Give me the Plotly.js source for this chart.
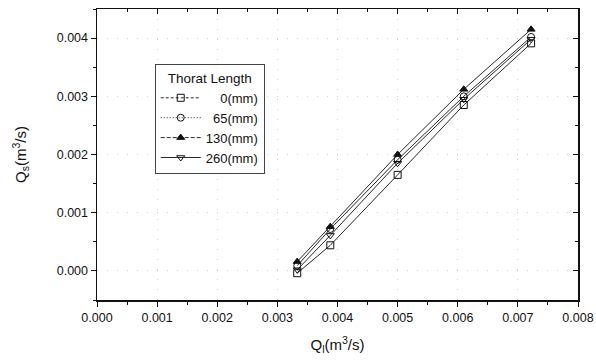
<!DOCTYPE html>
<html>
<head>
<meta charset="utf-8">
<script src="https://cdn.plot.ly/plotly-3.0.1.min.js"></script>
<style>html,body{margin:0;padding:0;background:#fff;}#chart{width:596px;height:360px;}</style>
</head>
<body>
<div id="chart"></div>
<script>
// Data
const ql = [0.00333, 0.00388, 0.0050, 0.0061, 0.00722];
const seriesNames = ["0(mm)", "65(mm)", "130(mm)", "260(mm)"];
const qs0   = [-0.00004, 0.00044, 0.00165, 0.00285, 0.00391];
const qs65  = [0.00009, 0.00072, 0.00191, 0.00300, 0.00402];
const qs130 = [0.00016, 0.00076, 0.00200, 0.00312, 0.00415];
const qs260 = [0.00002, 0.00061, 0.00185, 0.00295, 0.00398];
const xTicks = [0, 0.001, 0.002, 0.003, 0.004, 0.005, 0.006, 0.007, 0.008];
const yTicks = [0, 0.001, 0.002, 0.003, 0.004];

const allY = [qs0, qs65, qs130, qs260];
const symbols = ["square-open", "circle-open", "triangle-up", "triangle-down-open"];
const dashes = ["3px,2px", "1px,2px", "4px,2px", "solid"];
const pads = ["\u00A0\u00A0\u00A0\u00A0", "\u00A0\u00A0", "", ""];

const traces = [];
allY.forEach((ys, i) => {
  traces.push({
    x: ql, y: ys, type: "scatter", mode: "lines+markers",
    line: {color: "#111", width: 0.9},
    marker: {symbol: symbols[i], size: 7, color: "#111", line: {color: "#111", width: 1}},
    showlegend: false, hoverinfo: "skip"
  });
});
allY.forEach((ys, i) => {
  traces.push({
    x: [null], y: [null], type: "scatter", mode: "lines+markers",
    name: pads[i] + seriesNames[i],
    line: {color: "#111", width: 0.9, dash: dashes[i]},
    marker: {symbol: symbols[i], size: 7, color: "#111", line: {color: "#111", width: 1}},
    showlegend: true
  });
});
// overlay axes for inward ticks on top/right
traces.push({x: [null], y: [null], xaxis: "x2", yaxis: "y2", showlegend: false, type: "scatter"});

const FAM = "Arial";
const font = {family: FAM, color: "#111", size: 12};

const layout = {
  width: 596, height: 360,
  margin: {l: 97, r: 18, t: 9, b: 60},
  paper_bgcolor: "#fff", plot_bgcolor: "#fff",
  font: font,
  xaxis: {
    range: [0, 0.008], tickvals: xTicks, tickformat: ".3f",
    ticks: "outside", ticklen: 5, tickwidth: 1, tickcolor: "#111",
    minor: {dtick: 0.0005, ticks: "outside", ticklen: 3, tickcolor: "#111", showgrid: false},
    showline: true, linecolor: "#111", linewidth: 1.5,
    showgrid: true, gridcolor: "#d0d0d0", griddash: "1px,9px", gridwidth: 1,
    zeroline: false,
    title: {text: "Q<sub>l</sub>(m<sup>3</sup>/s)", font: {size: 15, family: FAM, color: "#111"}, standoff: 16},
    tickfont: {size: 12.5, family: FAM}
  },
  yaxis: {
    range: [-0.0005, 0.0045], tickvals: yTicks, tickformat: ".3f",
    ticks: "outside", ticklen: 5, tickwidth: 1, tickcolor: "#111",
    minor: {dtick: 0.0005, ticks: "outside", ticklen: 3, tickcolor: "#111", showgrid: false},
    showline: true, linecolor: "#111", linewidth: 1.5,
    showgrid: true, gridcolor: "#d0d0d0", griddash: "1px,9px", gridwidth: 1,
    zeroline: false,
    title: {text: "Q<sub>s</sub>(m<sup>3</sup>/s)", font: {size: 15, family: FAM, color: "#111"}, standoff: 26},
    tickfont: {size: 12.5, family: FAM}
  },
  xaxis2: {
    overlaying: "x", side: "top", range: [0, 0.008], tickvals: xTicks,
    showticklabels: false, ticks: "inside", ticklen: 5, tickcolor: "#111",
    minor: {dtick: 0.0005, ticks: "inside", ticklen: 3, tickcolor: "#111"},
    showline: true, linecolor: "#111", linewidth: 1.5, showgrid: false, zeroline: false
  },
  yaxis2: {
    overlaying: "y", side: "right", range: [-0.0005, 0.0045], tickvals: yTicks,
    showticklabels: false, ticks: "inside", ticklen: 5, tickcolor: "#111",
    minor: {dtick: 0.0005, ticks: "inside", ticklen: 3, tickcolor: "#111"},
    showline: true, linecolor: "#111", linewidth: 1.5, showgrid: false, zeroline: false
  },
  legend: {
    x: 0.12, y: 0.81, xanchor: "left", yanchor: "top",
    bgcolor: "#fff", bordercolor: "#444", borderwidth: 1,
    font: {size: 13, family: FAM, color: "#111"},
    title: {text: "Thorat Length", side: "top center", font: {size: 13.5, family: FAM, color: "#111"}},
    tracegroupgap: 0, itemwidth: 40
  },
  showlegend: true
};

Plotly.newPlot("chart", traces, layout, {staticPlot: true, displayModeBar: false});
</script>
</body>
</html>
